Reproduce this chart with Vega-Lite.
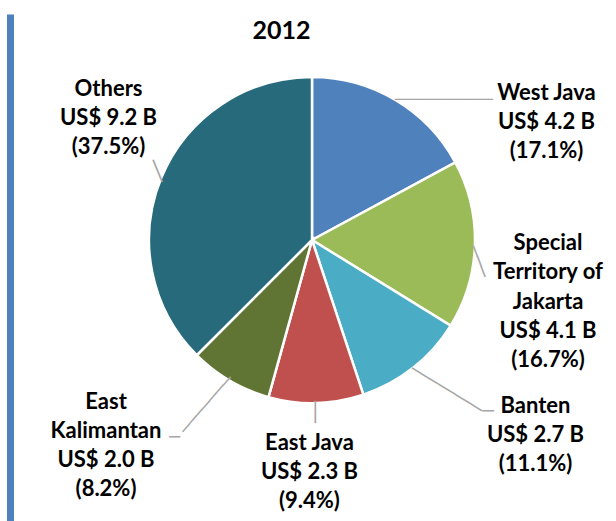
{
  "$schema": "https://vega.github.io/schema/vega-lite/v6.json",
  "width": 604,
  "height": 452,
  "autosize": {"type": "none"},
  "padding": {"left": 10, "top": 14, "right": 2, "bottom": 55},
  "background": "#ffffff",
  "config": {"view": {"stroke": null}},
  "title": {"text": "2012", "font": "Lato", "fontWeight": "bold", "fontSize": 25, "color": "#000000", "anchor": "middle", "frame": "group", "orient": "top", "baseline": "alphabetic", "offset": -26, "dx": -30.5, "dy": 37},
  "data": {"values": [
    {"region": "West Java", "idx": 1, "amount": 4.2, "pct": 17.1, "label": "West Java\nUS$ 4.2 B\n(17.1%)"},
    {"region": "Special Territory of Jakarta", "idx": 2, "amount": 4.1, "pct": 16.7, "label": "Special\nTerritory of\nJakarta\nUS$ 4.1 B\n(16.7%)"},
    {"region": "Banten", "idx": 3, "amount": 2.7, "pct": 11.1, "label": "Banten\nUS$ 2.7 B\n(11.1%)"},
    {"region": "East Java", "idx": 4, "amount": 2.3, "pct": 9.4, "label": "East Java\nUS$ 2.3 B\n(9.4%)"},
    {"region": "East Kalimantan", "idx": 5, "amount": 2.0, "pct": 8.2, "label": "East\nKalimantan\nUS$ 2.0 B\n(8.2%)"},
    {"region": "Others", "idx": 6, "amount": 9.2, "pct": 37.5, "label": "Others\nUS$ 9.2 B\n(37.5%)"}
  ]},
  "layer": [
    {
      "mark": {"type": "rule", "opacity": 0},
      "encoding": {
        "y": {"datum": 0, "type": "quantitative", "scale": {"domain": [0, 1], "range": [0, 510]},
          "axis": {"domainColor": "#4f81bd", "domainWidth": 7, "domainCap": "butt", "ticks": false, "labels": false, "grid": false, "title": null}}
      }
    },
    {
      "mark": {"type": "arc", "outerRadius": 163, "stroke": "#ffffff", "strokeWidth": 2.5},
      "encoding": {
        "theta": {"field": "pct", "type": "quantitative", "stack": true},
        "order": {"field": "idx", "type": "quantitative"},
        "color": {"field": "region", "type": "nominal", "legend": null,
          "scale": {"domain": ["West Java", "Special Territory of Jakarta", "Banten", "East Java", "East Kalimantan", "Others"],
                    "range": ["#4f81bd", "#9bbb59", "#4bacc6", "#c0504d", "#607533", "#276a7b"]}}
      }
    },
    {
      "mark": {"type": "text", "font": "DejaVu Sans Mono", "fontSize": 16.3, "align": "left", "baseline": "middle", "fill": "#a6a6a6", "angle": 0, "dx": 0, "dy": -1},
      "encoding": {"theta": {"field": "pct", "type": "quantitative", "stack": true}, "order": {"field": "idx", "type": "quantitative"}, "radius": {"value": 162},
        "text": {"condition": {"test": "datum.idx == 1", "value": "──────────"}, "value": ""}}
    },
    {
      "mark": {"type": "text", "font": "DejaVu Sans Mono", "fontSize": 18.3, "align": "left", "baseline": "middle", "fill": "#a6a6a6", "angle": 68.8, "dx": 1, "dy": 2.4},
      "encoding": {"theta": {"field": "pct", "type": "quantitative", "stack": true}, "order": {"field": "idx", "type": "quantitative"}, "radius": {"value": 162},
        "text": {"condition": {"test": "datum.idx == 2", "value": "───"}, "value": ""}}
    },
    {
      "mark": {"type": "text", "font": "DejaVu Sans Mono", "fontSize": 17.1, "align": "left", "baseline": "middle", "fill": "#a6a6a6", "angle": 31.5, "dx": 0.2, "dy": 1.9},
      "encoding": {"theta": {"field": "pct", "type": "quantitative", "stack": true}, "order": {"field": "idx", "type": "quantitative"}, "radius": {"value": 162},
        "text": {"condition": {"test": "datum.idx == 3", "value": "────────"}, "value": ""}}
    },
    {
      "mark": {"type": "text", "font": "DejaVu Sans Mono", "fontSize": 18, "align": "left", "baseline": "middle", "fill": "#a6a6a6", "angle": 0, "dx": 70.5, "dy": 44.9},
      "encoding": {"theta": {"field": "pct", "type": "quantitative", "stack": true}, "order": {"field": "idx", "type": "quantitative"}, "radius": {"value": 162},
        "text": {"condition": {"test": "datum.idx == 3", "value": "─"}, "value": ""}}
    },
    {
      "mark": {"type": "text", "font": "DejaVu Sans Mono", "fontSize": 18.3, "align": "left", "baseline": "middle", "fill": "#a6a6a6", "angle": 90, "dx": -1, "dy": 2},
      "encoding": {"theta": {"field": "pct", "type": "quantitative", "stack": true}, "order": {"field": "idx", "type": "quantitative"}, "radius": {"value": 162},
        "text": {"condition": {"test": "datum.idx == 4", "value": "──"}, "value": ""}}
    },
    {
      "mark": {"type": "text", "font": "DejaVu Sans Mono", "fontSize": 17.3, "align": "left", "baseline": "middle", "fill": "#a6a6a6", "angle": 131.1, "dx": -2.4, "dy": 3},
      "encoding": {"theta": {"field": "pct", "type": "quantitative", "stack": true}, "order": {"field": "idx", "type": "quantitative"}, "radius": {"value": 162},
        "text": {"condition": {"test": "datum.idx == 5", "value": "───────"}, "value": ""}}
    },
    {
      "mark": {"type": "text", "font": "DejaVu Sans Mono", "fontSize": 18, "align": "right", "baseline": "middle", "fill": "#a6a6a6", "angle": 0, "dx": -50.4, "dy": 58.5},
      "encoding": {"theta": {"field": "pct", "type": "quantitative", "stack": true}, "order": {"field": "idx", "type": "quantitative"}, "radius": {"value": 162},
        "text": {"condition": {"test": "datum.idx == 5", "value": "─"}, "value": ""}}
    },
    {
      "mark": {"type": "text", "font": "DejaVu Sans Mono", "fontSize": 19.5, "align": "left", "baseline": "middle", "fill": "#a6a6a6", "angle": 247.8, "dx": -3.3, "dy": -1},
      "encoding": {"theta": {"field": "pct", "type": "quantitative", "stack": true}, "order": {"field": "idx", "type": "quantitative"}, "radius": {"value": 162},
        "text": {"condition": {"test": "datum.idx == 6", "value": "──"}, "value": ""}}
    },
    {
      "mark": {"type": "text", "font": "Lato", "fontWeight": "bold", "fontSize": 22, "lineHeight": 29, "lineBreak": "\n", "align": "center", "baseline": "alphabetic", "fill": "#000000", "dx": 151.6, "dy": -1.3},
      "encoding": {"theta": {"field": "pct", "type": "quantitative", "stack": true}, "order": {"field": "idx", "type": "quantitative"}, "radius": {"value": 162},
        "text": {"condition": {"test": "datum.idx == 1", "field": "label"}, "value": ""}}
    },
    {
      "mark": {"type": "text", "font": "Lato", "fontWeight": "bold", "fontSize": 22, "lineHeight": 29.3, "lineBreak": "\n", "align": "center", "baseline": "alphabetic", "fill": "#000000", "dx": 74.1, "dy": 5.4},
      "encoding": {"theta": {"field": "pct", "type": "quantitative", "stack": true}, "order": {"field": "idx", "type": "quantitative"}, "radius": {"value": 162},
        "text": {"condition": {"test": "datum.idx == 2", "field": "label"}, "value": ""}}
    },
    {
      "mark": {"type": "text", "font": "Lato", "fontWeight": "bold", "fontSize": 22, "lineHeight": 29, "lineBreak": "\n", "align": "center", "baseline": "alphabetic", "fill": "#000000", "dx": 123, "dy": 45.9},
      "encoding": {"theta": {"field": "pct", "type": "quantitative", "stack": true}, "order": {"field": "idx", "type": "quantitative"}, "radius": {"value": 162},
        "text": {"condition": {"test": "datum.idx == 3", "field": "label"}, "value": ""}}
    },
    {
      "mark": {"type": "text", "font": "Lato", "fontWeight": "bold", "fontSize": 22, "lineHeight": 29, "lineBreak": "\n", "align": "center", "baseline": "alphabetic", "fill": "#000000", "dx": -6.6, "dy": 48},
      "encoding": {"theta": {"field": "pct", "type": "quantitative", "stack": true}, "order": {"field": "idx", "type": "quantitative"}, "radius": {"value": 162},
        "text": {"condition": {"test": "datum.idx == 4", "field": "label"}, "value": ""}}
    },
    {
      "mark": {"type": "text", "font": "Lato", "fontWeight": "bold", "fontSize": 22, "lineHeight": 29, "lineBreak": "\n", "align": "center", "baseline": "alphabetic", "fill": "#000000", "dx": -124.4, "dy": 29},
      "encoding": {"theta": {"field": "pct", "type": "quantitative", "stack": true}, "order": {"field": "idx", "type": "quantitative"}, "radius": {"value": 162},
        "text": {"condition": {"test": "datum.idx == 5", "field": "label"}, "value": ""}}
    },
    {
      "mark": {"type": "text", "font": "Lato", "fontWeight": "bold", "fontSize": 22, "lineHeight": 29, "lineBreak": "\n", "align": "center", "baseline": "alphabetic", "fill": "#000000", "dx": -53.8, "dy": -82},
      "encoding": {"theta": {"field": "pct", "type": "quantitative", "stack": true}, "order": {"field": "idx", "type": "quantitative"}, "radius": {"value": 162},
        "text": {"condition": {"test": "datum.idx == 6", "field": "label"}, "value": ""}}
    }
  ]
}
